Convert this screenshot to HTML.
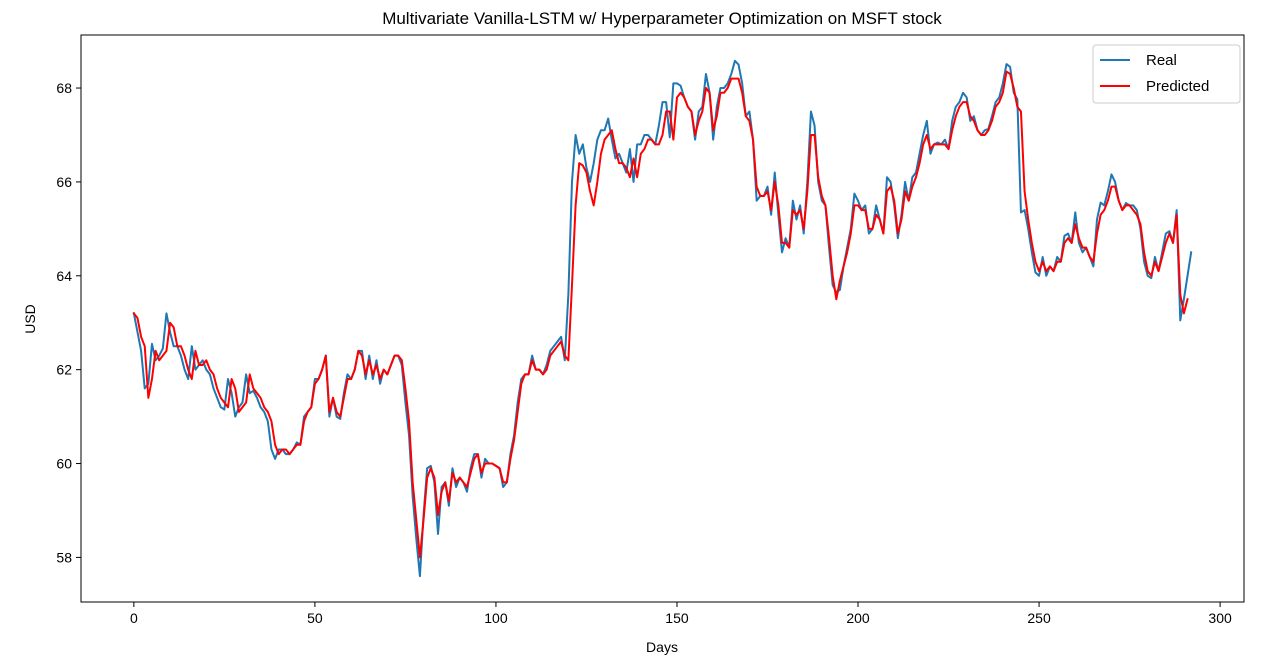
<!DOCTYPE html>
<html><head><meta charset="utf-8">
<style>
html,body{margin:0;padding:0;background:#fff;}
svg{display:block;font-family:"Liberation Sans","DejaVu Sans",sans-serif;}
</style></head>
<body>
<svg id="chart" width="1276" height="666" viewBox="0 0 1276 666" xmlns="http://www.w3.org/2000/svg">
  <rect x="0" y="0" width="1276" height="666" fill="#fff"/>
  <text x="662" y="24" font-size="17" text-anchor="middle" fill="#000">Multivariate Vanilla-LSTM w/ Hyperparameter Optimization on MSFT stock</text>
  <g id="plot"></g>
  <text x="662" y="652" font-size="14" text-anchor="middle">Days</text>
  <text x="0" y="0" font-size="14" text-anchor="middle" transform="translate(35,319) rotate(-90)">USD</text>
  <g>
    <rect x="1093" y="45" width="147" height="58" rx="3" fill="#fff" stroke="#ccc" stroke-width="1"/>
    <line x1="1100" y1="60" x2="1130" y2="60" stroke="#1f77b4" stroke-width="2"/>
    <text x="1146" y="65" font-size="15">Real</text>
    <line x1="1100" y1="86" x2="1130" y2="86" stroke="#ff0000" stroke-width="2"/>
    <text x="1146" y="91" font-size="15">Predicted</text>
  </g>
</svg>
<script>
const xTicks = [0, 50, 100, 150, 200, 250, 300];
const yTicks = [58, 60, 62, 64, 66, 68];
const realValues = [
63.2,62.8,62.4,61.6,61.7,62.55,62.2,62.3,62.45,63.2,
62.8,62.5,62.5,62.3,62.0,61.8,62.5,62.0,62.1,62.2,
62.0,61.9,61.6,61.4,61.2,61.15,61.8,61.5,61.0,61.2,
61.3,61.9,61.5,61.55,61.4,61.2,61.1,60.9,60.3,60.1,
60.3,60.3,60.2,60.2,60.3,60.45,60.4,61.0,61.1,61.2,
61.8,61.8,62.0,62.3,61.0,61.4,61.0,60.95,61.5,61.9,
61.8,62.0,62.4,62.4,61.8,62.3,61.8,62.2,61.7,62.0,
61.9,62.1,62.3,62.3,62.1,61.3,60.6,59.3,58.4,57.6,
58.9,59.9,59.95,59.6,58.5,59.5,59.6,59.1,59.9,59.5,
59.7,59.6,59.4,59.9,60.2,60.2,59.7,60.1,60.0,60.0,
59.95,59.9,59.5,59.6,60.2,60.6,61.3,61.8,61.9,61.9,
62.3,62.0,62.0,61.9,62.1,62.4,62.5,62.6,62.7,62.2,
63.6,66.0,67.0,66.6,66.8,66.3,66.0,66.4,66.9,67.1,
67.1,67.35,66.9,66.5,66.6,66.4,66.2,66.7,66.0,66.8,
66.8,67.0,67.0,66.9,66.8,67.2,67.7,67.7,66.95,68.1,
68.1,68.05,67.8,67.6,67.5,66.9,67.5,67.6,68.3,67.9,
66.9,67.6,68.0,68.0,68.1,68.3,68.58,68.5,68.1,67.4,
67.5,66.9,65.6,65.7,65.7,65.9,65.3,66.2,65.3,64.5,
64.8,64.6,65.6,65.2,65.5,64.9,66.0,67.5,67.2,66.0,
65.6,65.5,64.6,63.8,63.65,63.7,64.2,64.6,65.0,65.75,
65.6,65.4,65.5,64.9,65.0,65.5,65.2,64.9,66.1,66.0,
65.5,64.8,65.3,66.0,65.6,66.1,66.2,66.6,67.0,67.3,
66.6,66.8,66.84,66.8,66.9,66.7,67.3,67.6,67.7,67.9,
67.8,67.3,67.4,67.1,67.0,67.1,67.13,67.4,67.7,67.8,
68.1,68.51,68.45,67.9,67.76,65.35,65.4,65.0,64.5,64.07,
64.0,64.4,64.0,64.2,64.1,64.4,64.3,64.85,64.9,64.7,
65.35,64.7,64.5,64.6,64.4,64.2,65.2,65.56,65.5,65.8,
66.16,66.0,65.6,65.4,65.55,65.5,65.5,65.4,65.0,64.3,
64.0,63.95,64.4,64.1,64.5,64.9,64.95,64.7,65.4,63.05,
63.5,64.0,64.5
];
const predictedValues = [
63.2,63.1,62.7,62.5,61.4,61.8,62.4,62.2,62.3,62.4,
63.0,62.9,62.5,62.5,62.3,62.0,61.8,62.4,62.1,62.1,
62.2,62.0,61.9,61.6,61.4,61.3,61.2,61.8,61.6,61.1,
61.2,61.3,61.9,61.6,61.5,61.4,61.2,61.1,60.9,60.4,
60.2,60.3,60.3,60.2,60.3,60.4,60.4,60.9,61.1,61.2,
61.7,61.8,62.0,62.3,61.1,61.4,61.1,61.0,61.4,61.8,
61.8,62.0,62.4,62.3,61.9,62.2,61.9,62.1,61.8,62.0,
61.9,62.1,62.3,62.3,62.2,61.6,60.9,59.6,58.8,58.0,
58.8,59.7,59.9,59.7,58.9,59.4,59.6,59.2,59.8,59.6,
59.7,59.6,59.5,59.8,60.1,60.2,59.8,60.0,60.0,60.0,
59.95,59.9,59.6,59.6,60.1,60.5,61.1,61.7,61.9,61.9,
62.2,62.0,62.0,61.9,62.0,62.3,62.4,62.5,62.6,62.3,
62.2,63.8,65.5,66.4,66.35,66.2,65.8,65.5,66.0,66.6,
66.9,67.0,67.1,66.7,66.4,66.4,66.3,66.1,66.5,66.1,
66.6,66.7,66.9,66.9,66.8,66.8,67.0,67.5,67.5,66.9,
67.8,67.9,67.8,67.6,67.5,67.0,67.3,67.5,68.0,67.9,
67.1,67.4,67.9,67.9,68.0,68.2,68.2,68.2,67.9,67.4,
67.3,66.9,65.9,65.7,65.7,65.8,65.4,66.0,65.5,64.7,
64.7,64.6,65.4,65.3,65.4,65.0,65.8,67.0,67.0,66.1,
65.7,65.5,64.8,64.0,63.5,63.9,64.2,64.5,64.9,65.5,
65.5,65.4,65.4,65.0,65.0,65.3,65.2,64.9,65.8,65.9,
65.6,64.9,65.2,65.8,65.6,65.9,66.1,66.4,66.8,67.0,
66.7,66.8,66.8,66.8,66.8,66.7,67.1,67.4,67.6,67.7,
67.7,67.4,67.3,67.1,67.0,67.0,67.1,67.3,67.6,67.7,
67.9,68.35,68.3,68.0,67.6,67.5,65.8,65.2,64.7,64.3,
64.1,64.3,64.1,64.2,64.1,64.3,64.3,64.7,64.8,64.7,
65.1,64.8,64.6,64.6,64.4,64.3,64.9,65.3,65.4,65.6,
65.9,65.9,65.6,65.4,65.5,65.5,65.4,65.3,65.1,64.5,
64.1,64.0,64.3,64.1,64.4,64.7,64.9,64.7,65.3,63.6,
63.2,63.5
];

const L = 81, R = 1244, T = 35, B = 602;
const xMin = -14.6, xMax = 306.6, yMin = 57.05, yMax = 69.13;
function xScale(d) { return L + (d - xMin) / (xMax - xMin) * (R - L); }
function yScale(v) { return B - (v - yMin) / (yMax - yMin) * (B - T); }

const NS = 'http://www.w3.org/2000/svg';
const plot = document.getElementById('plot');
function mk(tag, attrs) {
  const el = document.createElementNS(NS, tag);
  for (const k in attrs) el.setAttribute(k, attrs[k]);
  return el;
}

xTicks.forEach(t => {
  const x = xScale(t);
  const tick = mk('line', {x1: x, y1: B, x2: x, y2: B + 5, stroke: '#000', 'stroke-width': 1});
  
  
  plot.appendChild(tick);
  const lbl = mk('text', {x: x, y: B + 21, 'font-size': 14, 'text-anchor': 'middle', fill: '#000'});
  
  
  lbl.textContent = t;
  plot.appendChild(lbl);
});
yTicks.forEach(t => {
  const y = yScale(t);
  const tick = mk('line', {x1: L - 5, y1: y, x2: L, y2: y, stroke: '#000', 'stroke-width': 1});
  
  
  plot.appendChild(tick);
  const lbl = mk('text', {x: L - 9, y: y + 5, 'font-size': 14, 'text-anchor': 'end', fill: '#000'});
  
  
  lbl.textContent = t;
  plot.appendChild(lbl);
});

function series(vals, color, name) {
  const pts = vals.map((v, i) => xScale(i).toFixed(2) + ',' + yScale(v).toFixed(2)).join(' ');
  const pl = mk('polyline', {points: pts, fill: 'none', stroke: color, 'stroke-width': 2, 'stroke-linejoin': 'round', 'stroke-linecap': 'square'});
  
  
  plot.appendChild(pl);
}
series(realValues, '#1f77b4', 'real-line');
series(predictedValues, '#ff0000', 'predicted-line');

const frame = mk('rect', {x: L, y: T, width: R - L, height: B - T, fill: 'none', stroke: '#000', 'stroke-width': 1});


plot.appendChild(frame);
</script>
</body></html>
